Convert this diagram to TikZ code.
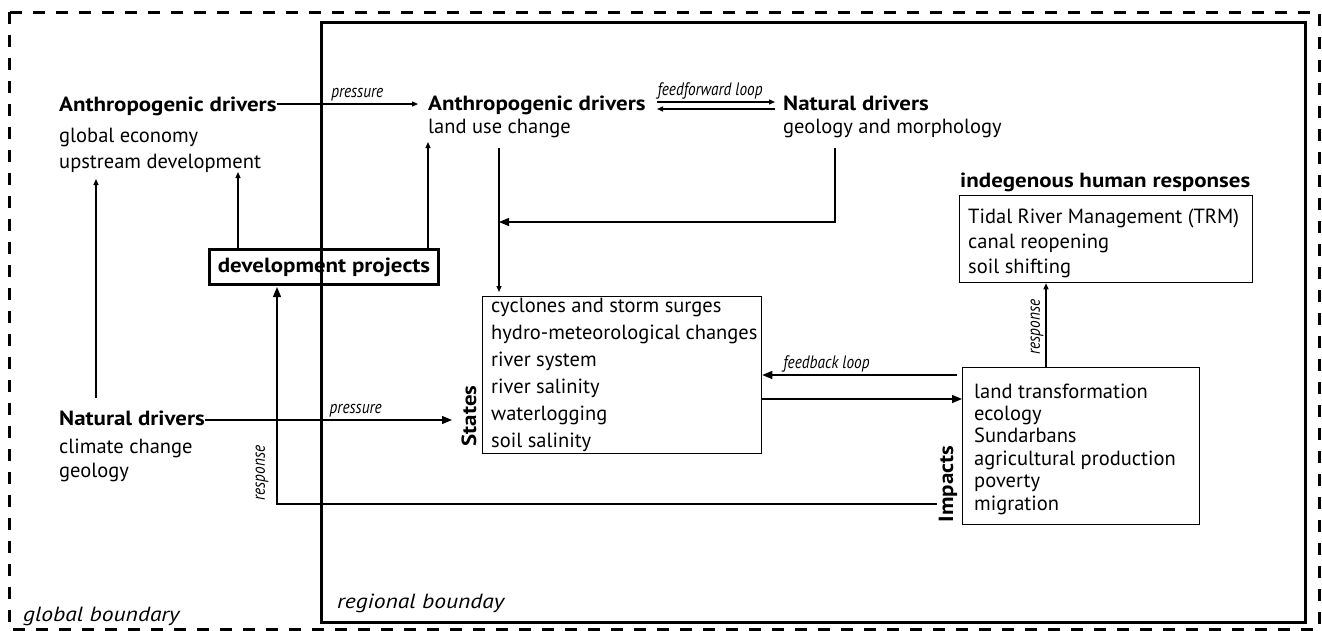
\documentclass[tikz,border=0pt]{standalone}
\usepackage{fontspec}
\setmainfont{PT Sans}
\newfontfamily\bff[FakeStretch=1.12]{PT Sans}
\newfontfamily\itf[FakeStretch=1.15]{PT Sans}
\newfontfamily\condit[FakeStretch=0.85]{PT Sans}
\usetikzlibrary{arrows.meta,calc}
\begin{document}
\begin{tikzpicture}[x=1pt,y=-1pt,
  txt/.style={inner sep=0pt, anchor=base west, font=\fontsize{20.5}{24}\selectfont},
  head/.style={txt, font=\fontsize{20.5}{24}\bff\bfseries},
  lab/.style={inner sep=0pt, font=\fontsize{18}{20}\condit\itshape},
  side/.style={inner sep=0pt, rotate=90, font=\fontsize{20.5}{24}\bff\bfseries},
  conn/.style={line width=1.25pt},
  tipS/.style={-{Triangle[length=6pt,width=5pt]}},
  tipL/.style={-{Triangle[length=10pt,width=8pt]}},
  thinbox/.style={draw, line width=1.25pt, inner sep=0pt, anchor=north west},
  thickbox/.style={draw, line width=3pt, inner sep=0pt}]
\useasboundingbox (0,0) rectangle (1322,630);
% boundaries
\draw[line width=3pt, dash pattern=on 12pt off 11pt] (9,12) rectangle (1319,629);
\draw[line width=3pt] (321,22) rectangle (1305,622);
\node[txt, font=\fontsize{20.5}{24}\itf\itshape] (gb) at (23,621) {global boundary};
\node[txt, font=\fontsize{20.5}{24}\itf\itshape] (rb) at (337,608) {regional bounday};
% global anthropogenic drivers
\node[head] (ga) at (59,111) {Anthropogenic drivers};
\node[txt] (ga1) at (59,142) {global economy};
\node[txt] (ga2) at (59,168) {upstream development};
% global natural drivers
\node[head] (gn) at (59,425) {Natural drivers};
\node[txt] (gn1) at (59,453) {climate change};
\node[txt] (gn2) at (59,477) {geology};
% regional drivers
\node[head] (ra) at (428,110) {Anthropogenic drivers};
\node[txt] (ra1) at (428,133) {land use change};
\node[head] (na) at (783,110) {Natural drivers};
\node[txt] (na1) at (783,133) {geology and morphology};
% development projects
\node[thickbox, minimum width=229pt, minimum height=35pt, anchor=north west,
      font=\fontsize{20.5}{24}\bff\bfseries] (dev) at (208,248) {development projects};
% states
\node[thinbox, minimum width=279pt, minimum height=157pt] (st) at (482,296) {};
\foreach \t [count=\i] in {cyclones and storm surges, hydro-meteorological changes, river system, river salinity, waterlogging, soil salinity}
  \node[txt] (s\i) at (491,{312+27*(\i-1)}) {\t};
\node[side] (stl) at (469,416) {States};
% impacts
\node[thinbox, minimum width=237pt, minimum height=157pt] (im) at (962,367) {};
\foreach \t [count=\i] in {land transformation, ecology, Sundarbans, agricultural production, poverty, migration}
  \node[txt] (m\i) at (974,{398+22.4*(\i-1)}) {\t};
\node[side] (iml) at (948,484) {Impacts};
% indigenous responses
\node[head] (ih) at (960,187) {indegenous human responses};
\node[thinbox, minimum width=293pt, minimum height=87pt] (ind) at (959,195) {};
\foreach \t [count=\i] in {Tidal River Management (TRM), canal reopening, soil shifting}
  \node[txt] (r\i) at (968,{223+25*(\i-1)}) {\t};
% helper coordinates
\coordinate (p1) at (418,104);
\coordinate (ffa) at (657,102);
\coordinate (ffb) at (775,102);
\coordinate (fba) at (657,109);
\coordinate (fbb) at (775,109);
\coordinate (nd) at (835,148);
\coordinate (jn) at (499,222);
\coordinate (lu) at (499,148);
\coordinate (u1) at (238,172);
\coordinate (u2) at (428,142);
\coordinate (lv0) at (96,398);
\coordinate (lv1) at (96,179);
\coordinate (p2) at (452,420);
\coordinate (fb0) at (957,375);
\coordinate (fw0) at (761,399);
\coordinate (rs0) at (937,504);
\coordinate (rsc) at (277,504);
\coordinate (ir) at (1046,367);
% connectors
\draw[conn, tipS] (ga.east |- p1) -- (p1) node[lab, pos=0.57, above=2pt] (pl1) {pressure};
\draw[conn, tipS] (ffa) -- (ffb) node[lab, pos=0.45, above=2pt] (ffl) {feedforward loop};
\draw[conn, tipS] (fbb) -- (fba);
\draw[conn, tipL] (nd) |- (jn);
\draw[conn, tipS] (lu) -- ([yshift=4pt]st.north -| lu);
\draw[conn, tipS] (dev.north -| u1) -- (u1);
\draw[conn, tipS] (dev.north -| u2) -- (u2);
\draw[conn, tipS] (lv0) -- (lv1);
\draw[conn, tipL] (gn.east |- p2) -- (p2) node[lab, pos=0.61, above=2pt] (pl2) {pressure};
\draw[conn, tipL] (fb0) -- (st.east |- fb0) node[lab, pos=0.67, above=2pt] (fbl) {feedback loop};
\draw[conn, tipL] (fw0) -- (im.west |- fw0);
\draw[conn, tipL] (rs0) -- (rsc) -- ([yshift=-1pt]dev.south -| rsc);
\node[lab, rotate=90] (rl1) at (262,473) {response};
\draw[conn, tipS] (ir) -- (ind.south -| ir);
\node[lab, rotate=90] (rl2) at (1037,327) {response};
\end{tikzpicture}
\end{document}
